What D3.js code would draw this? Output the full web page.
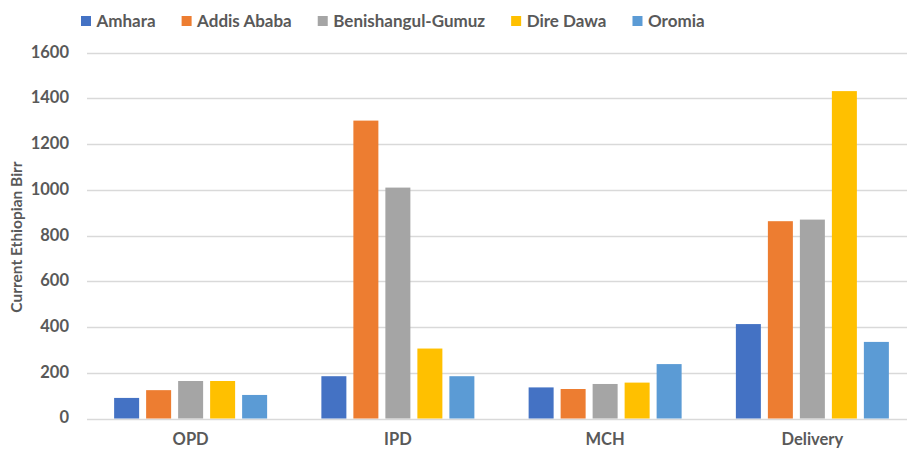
<!DOCTYPE html>
<html>
<head>
<meta charset="utf-8">
<script src="https://cdn.jsdelivr.net/npm/d3@7"></script>
<style>
  body { margin: 0; background: #fff; }
  svg { display: block; font-family: Lato, "Open Sans", sans-serif; font-weight: bold; }
</style>
</head>
<body>
<div id="chart"></div>
<script>
let categories = ["OPD", "IPD", "MCH", "Delivery"];
let series = ["Amhara", "Addis Ababa", "Benishangul-Gumuz", "Dire Dawa", "Oromia"];
let amhara = [90, 185, 136, 413];
let addis = [124, 1303, 129, 863];
let benishangul = [164, 1010, 151, 870];
let direDawa = [164, 306, 157, 1432];
let oromia = [103, 185, 238, 335];
let yTicks = [0, 200, 400, 600, 800, 1000, 1200, 1400, 1600];
let colors = ["#4472C4", "#ED7D31", "#A5A5A5", "#FFC000", "#5B9BD5"];

let values = [amhara, addis, benishangul, direDawa, oromia];

let width = 907, height = 450;
let margin = {top: 52.7, right: -9, bottom: 31.5, left: 87};

let svg = d3.select("#chart").append("svg")
    .attr("width", width)
    .attr("height", height);

let x0 = d3.scaleBand()
    .domain(categories)
    .range([margin.left, width - margin.right]);

// 5 bars, step 32, bar 25
let x1 = d3.scaleBand()
    .domain(series)
    .range([x0.bandwidth() / 2 - 80, x0.bandwidth() / 2 + 80])
    .paddingInner(7 / 32)
    .paddingOuter(3.5 / 32);

let y = d3.scaleLinear()
    .domain([0, 1600])
    .range([height - margin.bottom, margin.top]);

// gridlines
svg.append("g")
    .selectAll("line")
    .data(yTicks)
    .join("line")
    .attr("x1", margin.left)
    .attr("x2", width - margin.right)
    .attr("y1", d => Math.round(y(d)) + 0.5)
    .attr("y2", d => Math.round(y(d)) + 0.5)
    .attr("stroke", "#D9D9D9")
    .attr("stroke-width", 1.3);

// y tick labels
svg.append("g")
    .selectAll("text")
    .data(yTicks)
    .join("text")
    .attr("x", 69)
    .attr("y", d => y(d) - 1)
    .attr("dy", "0.36em")
    .attr("text-anchor", "end")
    .attr("font-size", 16.5)
    .attr("fill", "#595959")
    .text(d => d);

// bars
let groups = svg.append("g")
    .selectAll("g")
    .data(categories)
    .join("g")
    .attr("transform", d => `translate(${x0(d)},0)`);

groups.selectAll("rect")
    .data((c, ci) => series.map((s, si) => ({s: s, v: values[si][ci], i: si})))
    .join("rect")
    .attr("x", d => x1(d.s))
    .attr("width", x1.bandwidth())
    .attr("y", d => y(d.v))
    .attr("height", d => y(0) - y(d.v))
    .attr("fill", d => colors[d.i]);

// category labels (kept just inside the bottom edge)
svg.append("g")
    .selectAll("text")
    .data(categories)
    .join("text")
    .attr("x", d => x0(d) + x0.bandwidth() / 2)
    .attr("y", 445)
    .attr("text-anchor", "middle")
    .attr("font-size", 16.5)
    .attr("fill", "#595959")
    .text(d => d);

// y axis title
svg.append("text")
    .attr("transform", `translate(22, 237) rotate(-90)`)
    .attr("text-anchor", "middle")
    .attr("font-size", 15.5)
    .attr("fill", "#595959")
    .text("Current Ethiopian Birr");

// legend
let legend = svg.append("g");
let lx = 81;
series.forEach((s, i) => {
    legend.append("rect")
        .attr("x", lx)
        .attr("y", 16)
        .attr("width", 10)
        .attr("height", 10)
        .attr("fill", colors[i]);
    let t = legend.append("text")
        .attr("x", lx + 15.5)
        .attr("y", 27)
        .attr("font-size", 17)
        .attr("fill", "#595959")
        .text(s);
    lx += 15.5 + t.node().getComputedTextLength() + 26;
});
</script>
</body>
</html>
